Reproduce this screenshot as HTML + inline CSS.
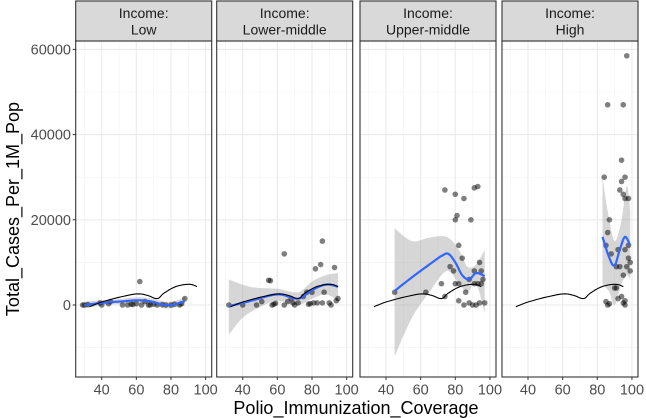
<!DOCTYPE html>
<html><head><meta charset="utf-8"><style>
body{margin:0;background:#fff;}
svg{display:block;font-family:"Liberation Sans",sans-serif;}
</style></head><body>
<svg id="c" width="646" height="418" xmlns="http://www.w3.org/2000/svg"></svg>
<script>
const facets = ["Low","Lower-middle","Upper-middle","High"];
const facetLabels = ["Income:\nLow","Income:\nLower-middle","Income:\nUpper-middle","Income:\nHigh"];
const xTicks = [40,60,80,100];
const yTicks = [0,20000,40000,60000];
const yTickLabels = ["0","20000","40000","60000"];
const pointsLow = [[29,0],[30,0],[32,100],[39,500],[40,0],[44,300],[45,800],[52,0],[55,0],[57,200],[58,100],[60,300],[62,5500],[63,0],[65,800],[67,0],[68,0],[70,200],[72,0],[75,100],[77,0],[80,0],[82,200],[85,0],[86,300],[88,1500]];
const pointsLowerMiddle = [[32,0],[40,0],[48,0],[51,800],[55,5800],[56,5700],[57,0],[58,200],[59,400],[64,12000],[64,0],[66,800],[68,1500],[69,500],[70,0],[72,500],[75,2000],[77,3000],[78,200],[79,300],[80,3000],[81,500],[82,8500],[83,500],[85,9500],[86,15000],[86,500],[87,3000],[90,500],[91,0],[93,8800],[94,1000],[95,1500]];
const pointsUpperMiddle = [[74,27000],[80,26000],[85,25000],[91,27500],[93,27800],[81,21000],[80,20000],[89,20000],[82,14000],[84,11000],[77,9000],[79,8000],[72,5000],[74,2000],[80,5000],[82,5000],[86,3000],[82,1000],[85,0],[88,500],[90,0],[92,0],[94,500],[97,500],[95,5000],[96,6000],[91,5000],[88,6000],[91,8000],[95,8000],[94,10000],[63,3000],[45,3000],[93,5000]];
const pointsHigh = [[84,30000],[86,47000],[95,47000],[97,58500],[94,34000],[96,30000],[94,29000],[95,26000],[96,25000],[93,27000],[98,25000],[87,20000],[85,14000],[86,17000],[92,13000],[88,12000],[91,9000],[95,7000],[97,9000],[99,8000],[98,11000],[96,13000],[93,9000],[90,4000],[91,4000],[86,0],[87,300],[94,2000],[95,500],[96,0],[85,800],[92,1500],[96,1000],[99,10000],[98,14000]];
const blackLine = [[33,-400],[40,700],[50,1800],[60,2600],[66,2300],[72,1500],[76,2800],[82,4200],[88,4800],[92,4800],[95,4300]];
const blueLow = [[30,0],[40,500],[50,800],[60,1100],[65,1000],[70,700],[75,100],[80,0],[85,500],[88,900]];
const ribbonLowUp = [[30,800],[40,1100],[50,1400],[60,1800],[65,1700],[70,1400],[75,900],[80,800],[85,1300],[88,2000]];
const ribbonLowDn = [[30,-800],[40,-100],[50,200],[60,400],[65,300],[70,0],[75,-700],[80,-800],[85,-300],[88,-200]];
const blueLM = [[32,-300],[45,1000],[60,2500],[72,1500],[80,3500],[88,4800],[95,4300]];
const ribbonLMUp = [[32,6000],[45,4200],[60,3800],[72,3000],[80,5500],[88,7000],[95,7500]];
const ribbonLMDn = [[32,-7000],[40,-3000],[50,-500],[60,1000],[72,0],[80,1500],[88,2500],[95,1000]];
const blueUM = [[45,3300],[55,6500],[65,9500],[72,11500],[76,12000],[80,10000],[84,7000],[88,6000],[92,7500],[97,6800]];
const ribbonUMUp = [[45,18000],[55,15000],[65,15800],[75,16000],[82,13000],[87,9000],[92,9500],[97,13000]];
const ribbonUMDn = [[45,-12000],[55,-3000],[65,3000],[75,8000],[82,5000],[87,3000],[92,5000],[97,-2000]];
const blueHigh = [[83,16000],[87,11000],[90,9300],[93,13000],[96,16000],[99,14000]];
const ribbonHighUp = [[83,30000],[86,22000],[90,15000],[94,20000],[97,28000],[99,22000]];
const ribbonHighDn = [[83,5000],[87,3000],[90,0],[94,5000],[97,7000],[99,6000]];

const points = [pointsLow,pointsLowerMiddle,pointsUpperMiddle,pointsHigh];
const blues = [blueLow,blueLM,blueUM,blueHigh];
const ribUp = [ribbonLowUp,ribbonLMUp,ribbonUMUp,ribbonHighUp];
const ribDn = [ribbonLowDn,ribbonLMDn,ribbonUMDn,ribbonHighDn];

const NS="http://www.w3.org/2000/svg";
const svg=document.getElementById('c');
function mk(tag,attrs,parent){const e=document.createElementNS(NS,tag);for(const k in attrs)e.setAttribute(k,attrs[k]);(parent||svg).appendChild(e);return e;}
const panelL=[75.7,216.7,360,502], panelW=136;
const pTop=41, pBot=377, stripTop=1;
const xMin=25, xMax=103.5;
const yScale=v=>305-v/20000*85.2;
function xScale(i,v){return panelL[i]+(v-xMin)/(xMax-xMin)*panelW;}
function pathD(i,arr){return arr.map((p,k)=>(k?'L':'M')+xScale(i,p[0]).toFixed(1)+','+yScale(p[1]).toFixed(1)).join(' ');}
function smooth(arr){
  const out=[];for(let k=0;k<arr.length-1;k++){const p0=arr[Math.max(k-1,0)],p1=arr[k],p2=arr[k+1],p3=arr[Math.min(k+2,arr.length-1)];
  for(let t=0;t<1;t+=0.1){const t2=t*t,t3=t2*t;out.push([0,1].map(j=>0.5*((2*p1[j])+(-p0[j]+p2[j])*t+(2*p0[j]-5*p1[j]+4*p2[j]-p3[j])*t2+(-p0[j]+3*p1[j]-3*p2[j]+p3[j])*t3)));}}
  out.push(arr[arr.length-1]);return out;}

for(let i=0;i<4;i++){
  const g=mk('g',{});
  
  
  const L=panelL[i];
  mk('rect',{x:L,y:pTop,width:panelW,height:pBot-pTop,fill:'#fff'},g);
  [30,50,70,90].forEach(v=>mk('line',{x1:xScale(i,v),x2:xScale(i,v),y1:pTop,y2:pBot,stroke:'#f2f2f2','stroke-width':0.6},g));
  [-10000,10000,30000,50000].forEach(v=>mk('line',{x1:L,x2:L+panelW,y1:yScale(v),y2:yScale(v),stroke:'#f2f2f2','stroke-width':0.6},g));
  xTicks.forEach(v=>mk('line',{x1:xScale(i,v),x2:xScale(i,v),y1:pTop,y2:pBot,stroke:'#ebebeb','stroke-width':1.1},g));
  yTicks.forEach(v=>mk('line',{x1:L,x2:L+panelW,y1:yScale(v),y2:yScale(v),stroke:'#ebebeb','stroke-width':1.1},g));
  const up=smooth(ribUp[i]), dn=smooth(ribDn[i]).reverse();
  const rib=mk('path',{d:pathD(i,up)+' '+dn.map(p=>'L'+xScale(i,p[0]).toFixed(1)+','+yScale(p[1]).toFixed(1)).join(' ')+' Z',fill:'#999','fill-opacity':0.4},g);
  
  
  points[i].forEach(p=>{const c=mk('circle',{cx:xScale(i,p[0]),cy:yScale(p[1]),r:2.8,fill:'#000','fill-opacity':0.5},g);
    
    });
  const bl=mk('path',{d:pathD(i,smooth(blues[i])),fill:'none',stroke:'#3366ff','stroke-width':2.2},g);
  
  
  const kl=mk('path',{d:pathD(i,smooth(blackLine)),fill:'none',stroke:'#000','stroke-width':1.1},g);
  
  
  mk('rect',{x:L,y:pTop,width:panelW,height:pBot-pTop,fill:'none',stroke:'#333','stroke-width':1.1},g);
  const s=mk('rect',{x:L,y:stripTop,width:panelW,height:pTop-stripTop,fill:'#d9d9d9',stroke:'#333','stroke-width':1.1},g);
  
  
  facetLabels[i].split('\n').forEach((t,k)=>{const tx=mk('text',{x:L+panelW/2,y:18+k*16.5,'text-anchor':'middle','font-size':14,fill:'#1a1a1a'},g);tx.textContent=t;
    
    });
  xTicks.forEach(v=>{mk('line',{x1:xScale(i,v),x2:xScale(i,v),y1:pBot,y2:pBot+3,stroke:'#333'},g);
    const tx=mk('text',{x:xScale(i,v),y:394.5,'text-anchor':'middle','font-size':14.5,fill:'#4d4d4d'},g);tx.textContent=v;
    
    });
}
yTicks.forEach((v,k)=>{mk('line',{x1:72.7,x2:75.7,y1:yScale(v),y2:yScale(v),stroke:'#333'});
  const tx=mk('text',{x:71,y:yScale(v)+5,'text-anchor':'end','font-size':14.5,fill:'#4d4d4d'});tx.textContent=yTickLabels[k];
  
  });
const xt=mk('text',{x:356,y:414,'text-anchor':'middle','font-size':18,fill:'#000'});xt.textContent='Polio_Immunization_Coverage';


const yt=mk('text',{x:0,y:0,transform:'translate(19,209) rotate(-90)','text-anchor':'middle','font-size':18,fill:'#000'});yt.textContent='Total_Cases_Per_1M_Pop';


</script>
</body></html>
